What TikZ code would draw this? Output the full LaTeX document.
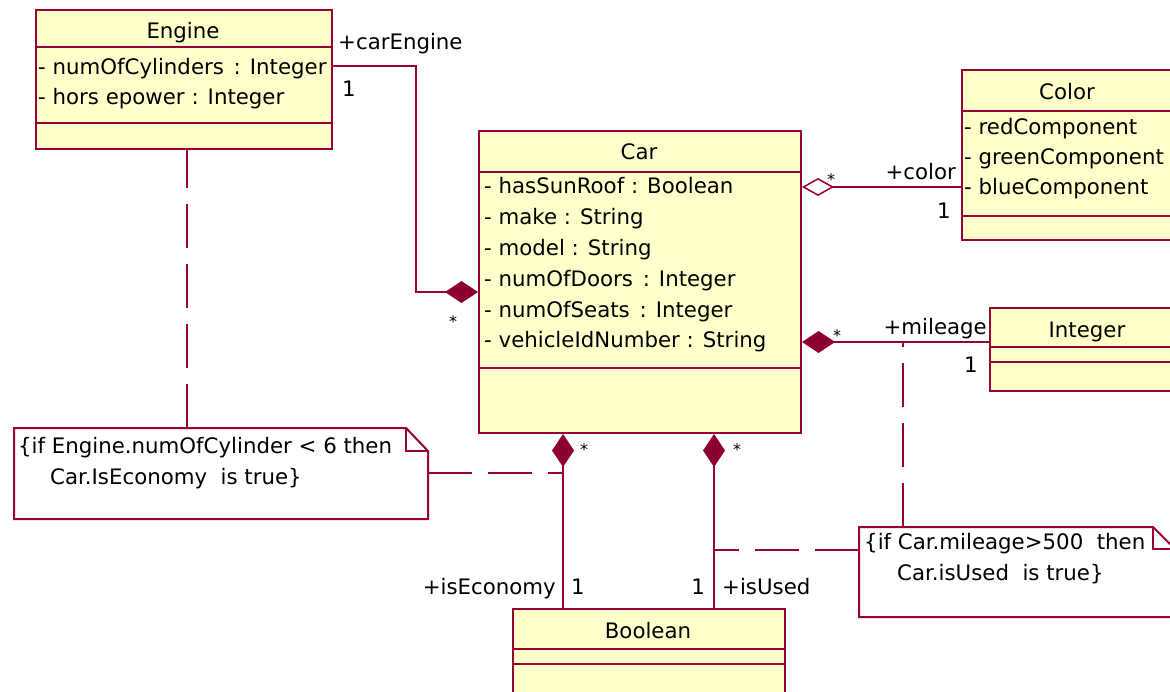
\documentclass[tikz,border=0pt]{standalone}
\usepackage{fontspec}
\setmainfont{DejaVu Sans}
\usetikzlibrary{arrows.meta}
\definecolor{umlline}{RGB}{153,0,51}
\definecolor{umlfill}{RGB}{255,255,204}
\definecolor{umldark}{RGB}{140,0,45}
\begin{document}
\begin{tikzpicture}[x=1pt,y=-1pt,
  cls/.style={draw=umlline, fill=umlfill, line width=2pt, rectangle, inner sep=0pt, anchor=north west},
  txt/.style={inner sep=0pt, font=\fontsize{21.3}{24}\selectfont, text height=15pt, text depth=4pt},
  attr/.style={txt, anchor=west},
  ttl/.style={txt, anchor=center},
  lblw/.style={txt, anchor=west},
  lble/.style={txt, anchor=east},
  star/.style={inner sep=0pt, font=\fontsize{16}{18}\selectfont},
  conn/.style={draw=umlline, line width=2pt},
  comp/.style={conn, -{Diamond[length=33pt,width=22pt,fill=umldark,line width=1pt]}},
  aggr/.style={conn, -{Diamond[open,length=32pt,width=18pt,fill=white,line width=1.5pt]}},
  anchorline/.style={draw=umlline, line width=2pt, dash pattern=on 44pt off 16pt},
  notebox/.style={draw=umlline, fill=white, line width=2pt, line join=miter}
]
\fill[white] (0,0) rectangle (1170,691);
\useasboundingbox (0,0) rectangle (1170,691);
\clip (0,0) rectangle (1170,691);

% ---------- class boxes ----------
\node[cls, minimum width=296pt, minimum height=139pt] (engine) at (35,9) {};
\node[cls, minimum width=322pt, minimum height=302pt] (car) at (478,130) {};
\node[cls, minimum width=212pt, minimum height=170pt] (color) at (961,69) {};
\node[cls, minimum width=196pt, minimum height=83pt] (integer) at (989,307) {};
\node[cls, minimum width=272pt, minimum height=85pt] (boolean) at (512,608) {};

% compartments
\draw[conn] (engine.north west) ++(0,38) -- ++(296,0);
\draw[conn] (engine.north west) ++(0,114) -- ++(296,0);
\draw[conn] (car.north west) ++(0,42) -- ++(322,0);
\draw[conn] (car.north west) ++(0,238) -- ++(322,0);
\draw[conn] (color.north west) ++(0,42) -- ++(212,0);
\draw[conn] (color.north west) ++(0,147) -- ++(212,0);
\draw[conn] (integer.north west) ++(0,40) -- ++(196,0);
\draw[conn] (integer.north west) ++(0,55) -- ++(196,0);
\draw[conn] (boolean.north west) ++(0,41) -- ++(272,0);
\draw[conn] (boolean.north west) ++(0,56) -- ++(272,0);

% texts
\node[ttl] (engT) at (183,33) {Engine};
\node[attr] (eng1) at (38,69) {- numOfCylinders\hspace{3pt} : Integer};
\node[attr] (eng2) at (38,99) {- hors epower : Integer};

\node[ttl] (carT) at (639,154) {Car};
\node[attr] (car1) at (484,188) {- hasSunRoof : Boolean};
\node[attr] (car2) at (484,219) {- make : String};
\node[attr] (car3) at (484,250) {- model : String};
\node[attr] (car4) at (484,281) {- numOfDoors\hspace{3pt} : Integer};
\node[attr] (car5) at (484,312) {- numOfSeats\hspace{3pt} : Integer};
\node[attr] (car6) at (484,342) {- vehicleIdNumber : String};

\node[ttl] (colT) at (1067,94) {Color};
\node[attr] (col1) at (964,129) {- redComponent};
\node[attr] (col2) at (964,159) {- greenComponent};
\node[attr] (col3) at (964,189) {- blueComponent};

\node[ttl] (intT) at (1087,332) {Integer};
\node[ttl] (boolT) at (648,633) {Boolean};

% ---------- associations ----------
\coordinate (engOut) at (engine.north east |- 0,66);
\coordinate (carEng) at (car.west |- 0,292);
\draw[comp] (engOut) -- (416,66) -- (416,292) -- (carEng);
\node[lblw] (lCarEngine) at (338,44) {+carEngine};
\node[lblw] (lEng1) at (342,91) {1};
\node[star] (sEng) at (453,322) {*};

\coordinate (carCol) at (car.east |- 0,187);
\draw[aggr] (color.west |- carCol) -- (carCol);
\node[star] (sCol) at (831,180) {*};
\node[lble] (lColor) at (956,174) {+color};
\node[lblw] (lCol1) at (937,213) {1};

\coordinate (carInt) at (car.east |- 0,342);
\draw[comp] (integer.west |- carInt) -- (carInt);
\node[star] (sInt) at (837,336) {*};
\node[lble] (lMileage) at (987,329) {+mileage};
\node[lblw] (lInt1) at (964,367) {1};

\coordinate (carB1) at (car.south -| 563,0);
\coordinate (carB2) at (car.south -| 714,0);
\draw[comp] (boolean.north -| carB1) -- (carB1);
\draw[comp] (boolean.north -| carB2) -- (carB2);
\node[star] (sB1) at (584,450) {*};
\node[star] (sB2) at (737,450) {*};
\node[lble] (lEco) at (556,589) {+isEconomy};
\node[lblw] (lEco1) at (571,589) {1};
\node[lble] (lUsed1) at (705,589) {1};
\node[lblw] (lUsed) at (722,589) {+isUsed};

% ---------- notes ----------
\draw[notebox] (14,428) -- (406,428) -- (428,451) -- (428,519) -- (14,519) -- cycle;
\draw[conn, line join=miter] (406,428) -- (406,451) -- (428,451);
\node[lblw] (n1a) at (18,448) {\{if Engine.numOfCylinder < 6 then};
\node[lblw] (n1b) at (50,479) {Car.IsEconomy\ \ is true\}};
\coordinate (n1top) at (187,428);
\coordinate (n1right) at (428,473);
\draw[anchorline] (n1top) -- (engine.south -| n1top);
\draw[anchorline] (n1right) -- (n1right -| carB1);

\draw[notebox] (859,527) -- (1153,527) -- (1175,549) -- (1175,617) -- (859,617) -- cycle;
\draw[conn, line join=miter] (1153,527) -- (1153,549) -- (1175,549);
\node[lblw] (n2a) at (864,544) {\{if Car.mileage>500\ \ then};
\node[lblw] (n2b) at (897,575) {Car.isUsed\ \ is true\}};
\coordinate (n2top) at (903,527);
\coordinate (n2left) at (859,550);
\draw[anchorline] (n2top) -- (n2top |- carInt);
\draw[anchorline] (n2left) -- (n2left -| carB2);
\end{tikzpicture}
\end{document}
